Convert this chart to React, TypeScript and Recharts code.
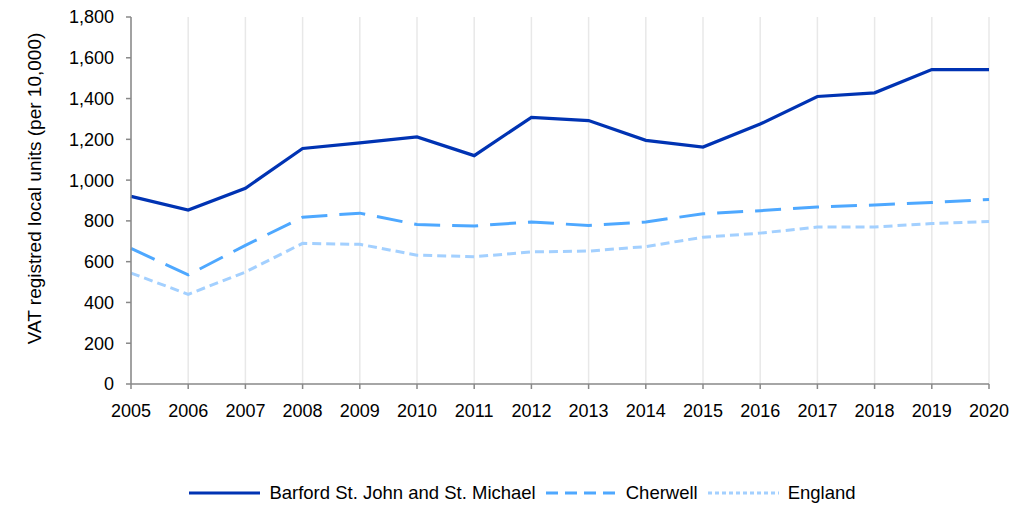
import { LineChart, Line, XAxis, YAxis, CartesianGrid, Legend } from "recharts"

const years = [2005, 2006, 2007, 2008, 2009, 2010, 2011, 2012, 2013, 2014, 2015, 2016, 2017, 2018, 2019, 2020]
const barford = [920, 853, 960, 1155, 1183, 1212, 1120, 1308, 1292, 1195, 1162, 1275, 1410, 1428, 1542, 1542]
const cherwell = [665, 535, 680, 818, 838, 782, 775, 795, 777, 795, 835, 850, 868, 878, 890, 905]
const england = [544, 440, 549, 690, 685, 632, 624, 648, 652, 674, 720, 740, 770, 770, 787, 797]
const yTicks = [0, 200, 400, 600, 800, 1000, 1200, 1400, 1600, 1800]

const seriesNames = ["Barford St. John and St. Michael", "Cherwell", "England"]

const data = years.map((y, i) => ({
    year: y,
    barford: barford[i],
    cherwell: cherwell[i],
    england: england[i],
}))

const FONT = "'Liberation Sans', Arial, sans-serif"

const legendItems = [
    { name: seriesNames[0], color: "#0033b3", dash: "" },
    { name: seriesNames[1], color: "#4ea8ff", dash: "12 7" },
    { name: seriesNames[2], color: "#a3d0ff", dash: "4 3" },
]

function CustomLegend() {
    return (
        <div style={{ height: 34, paddingTop: 10, paddingLeft: 28, boxSizing: "border-box", display: "flex", justifyContent: "center", alignItems: "center", fontFamily: FONT, fontSize: 18.5, color: "#000" }}>
            {legendItems.map((it) => (
                <div key={it.name} style={{ display: "flex", alignItems: "center", marginRight: 10 }}>
                    <svg width={71} height={6} style={{ marginRight: 9 }}>
                        <line x1={0} y1={3} x2={71} y2={3} stroke={it.color} strokeWidth={3} strokeDasharray={it.dash} />
                    </svg>
                    <span>{it.name}</span>
                </div>
            ))}
        </div>
    )
}

function YLabel(props: any) {
    const vb = props.viewBox
    const cx = 34
    const cy = vb.y + vb.height / 2 - 12
    return (
        <text x={cx} y={cy} transform={`rotate(-90, ${cx}, ${cy})`} textAnchor="middle" dominantBaseline="central" fontSize={19} fontFamily={FONT} fill="#000">
            VAT registred local units (per 10,000)
        </text>
    )
}

export default function App() {
    return (
        <div style={{ position: "absolute", left: 0, top: 0, width: 1027, height: 505, background: "#fff" }}>
            <LineChart width={1027} height={505} data={data} margin={{ top: 17, right: 38, bottom: 0, left: 0 }}>
                <CartesianGrid horizontal={false} stroke="#e8e8e8" strokeWidth={1.5} />
                <XAxis
                    dataKey="year"
                    height={87}
                    stroke="#888"
                    strokeWidth={1.5}
                    tickSize={5}
                    tickMargin={15}
                    interval={0}
                    tick={{ fill: "#000", fontSize: 18, fontFamily: FONT }}
                />
                <YAxis
                    width={131}
                    domain={[0, 1800]}
                    ticks={yTicks}
                    stroke="#888"
                    strokeWidth={1.5}
                    tickSize={5}
                    tickMargin={12}
                    tick={{ fill: "#000", fontSize: 18, fontFamily: FONT }}
                    tickFormatter={(v: number) => v.toLocaleString("en-US")}
                    label={<YLabel />}
                />
                <Legend verticalAlign="bottom" wrapperStyle={{ left: 0, width: 1027 }} content={<CustomLegend />} />
                <Line type="linear" dataKey="england" name={seriesNames[2]} stroke="#a3d0ff" strokeWidth={3} strokeDasharray="9 5" dot={false} isAnimationActive={false} />
                <Line type="linear" dataKey="cherwell" name={seriesNames[1]} stroke="#4ea8ff" strokeWidth={3} strokeDasharray="26 12" dot={false} isAnimationActive={false} />
                <Line type="linear" dataKey="barford" name={seriesNames[0]} stroke="#0033b3" strokeWidth={3.2} dot={false} isAnimationActive={false} />
            </LineChart>
        </div>
    )
}
